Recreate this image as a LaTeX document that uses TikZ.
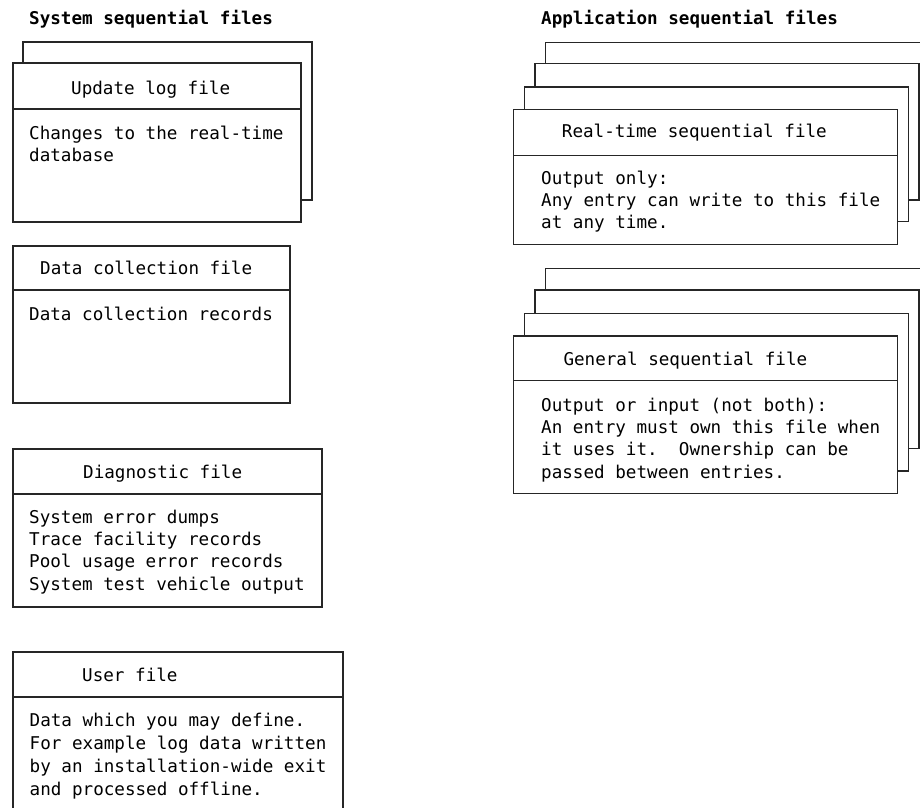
\documentclass[tikz,border=0pt]{standalone}
\usepackage{fontspec}
\setmonofont{DejaVu Sans Mono}
\begin{document}
\begin{tikzpicture}[x=1bp,y=-1bp,
  box/.style={draw=black!85, line width=1.1bp, fill=white},
  rule/.style={draw=black!85, line width=1.1bp},
  txt/.style={anchor=base west, inner sep=0pt, font=\ttfamily\fontsize{17.6bp}{22bp}\selectfont},
  ttl/.style={anchor=base west, inner sep=0pt, font=\ttfamily\bfseries\fontsize{17.6bp}{22bp}\selectfont}]
\useasboundingbox (0,0) rectangle (920,808);
\fill[white] (0,0) rectangle (920,808);

% ---------- left column ----------
\node[ttl] (lt) at (29,25) {System sequential files};

% Update log file (stack of two)
\draw[box] (23,42) rectangle (312,200);
\draw[box] (13,63) rectangle (301,222);
\draw[rule] (13,109) -- (301,109);
\node[txt] (u1) at (71,94) {Update log file};
\node[txt] (u2) at (29,139) {Changes to the real-time};
\node[txt] (u3) at (29,161) {database};

% Data collection file
\draw[box] (13,246) rectangle (290,403);
\draw[rule] (13,290) -- (290,290);
\node[txt] (d1) at (40,274.5) {Data collection file};
\node[txt] (d2) at (29,320) {Data collection records};

% Diagnostic file
\draw[box] (13,449) rectangle (322,607);
\draw[rule] (13,494) -- (322,494);
\node[txt] (g1) at (83,478.5) {Diagnostic file};
\node[txt] (g2) at (29,523.5) {System error dumps};
\node[txt] (g3) at (29,545.7) {Trace facility records};
\node[txt] (g4) at (29,567.9) {Pool usage error records};
\node[txt] (g5) at (29,590.1) {System test vehicle output};

% User file
\draw[box] (13,652) rectangle (343,830);
\draw[rule] (13,697) -- (343,697);
\node[txt] (f1) at (82,681) {User file};
\node[txt] (f2) at (29.5,726.7) {Data which you may define.};
\node[txt] (f3) at (29.5,749.5) {For example log data written};
\node[txt] (f4) at (29.5,772.2) {by an installation-wide exit};
\node[txt] (f5) at (29.5,795) {and processed offline.};

% ---------- right column ----------
\node[ttl] (rt) at (541,25) {Application sequential files};

% Real-time sequential file stack
\draw[box] (545.7,42.3) rectangle (930,177.7);
\draw[box] (535,63.7) rectangle (919,200);
\draw[box] (524.3,87) rectangle (908.3,221.7);
\draw[box] (513.3,109.3) rectangle (897.7,244.7);
\draw[rule] (513.3,155.7) -- (897.7,155.7);
\node[txt] (r1) at (561.7,137.3) {Real-time sequential file};
\node[txt] (r2) at (541,184.5) {Output only:};
\node[txt] (r3) at (541,206.3) {Any entry can write to this file};
\node[txt] (r4) at (541,228) {at any time.};

% General sequential file stack
\draw[box] (545.7,268.3) rectangle (930,425.7);
\draw[box] (535,290) rectangle (919,448.3);
\draw[box] (524.3,313.3) rectangle (908.3,471);
\draw[box] (513.3,336) rectangle (897.7,493.3);
\draw[rule] (513.3,380.7) -- (897.7,380.7);
\node[txt] (s1) at (563.3,365) {General sequential file};
\node[txt] (s2) at (541,411.7) {Output or input (not both):};
\node[txt] (s3) at (541,433.8) {An entry must own this file when};
\node[txt] (s4) at (541,455.9) {it uses it.\ \ Ownership can be};
\node[txt] (s5) at (541,478) {passed between entries.};
\end{tikzpicture}
\end{document}
